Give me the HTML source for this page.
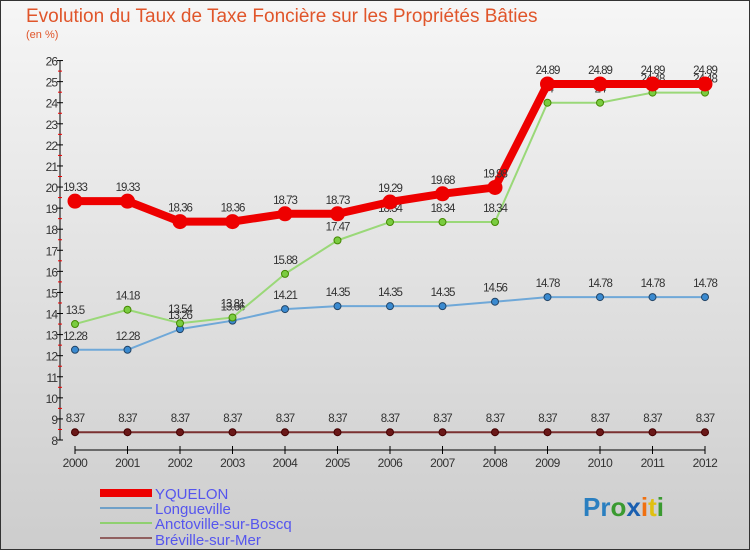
<!DOCTYPE html>
<html><head><meta charset="utf-8"><style>
body{margin:0}
svg{display:block;font-family:"Liberation Sans",sans-serif}
</style></head><body>
<svg width="750" height="550" xmlns="http://www.w3.org/2000/svg">
<defs><linearGradient id="bg" x1="0" y1="0" x2="0" y2="1"><stop offset="0" stop-color="#f6f6f6"/><stop offset="1" stop-color="#cdcdcd"/></linearGradient></defs>
<rect x="0.5" y="0.5" width="749" height="549" fill="url(#bg)" stroke="#333"/>
<text x="26" y="22" font-size="19" fill="#e0552a">Evolution du Taux de Taxe Foncière sur les Propriétés Bâties</text>
<text x="26" y="38" font-size="11" fill="#e0552a">(en %)</text>
<g id="axes"></g><g id="series"></g>
<g>
<rect x="100" y="489" width="52" height="8" fill="#e00"/>
<text x="155" y="499" font-size="15" fill="#5555ee">YQUELON</text>
<line x1="100" y1="508" x2="152" y2="508" stroke="#6fa0c8" stroke-width="2"/>
<text x="155" y="514" font-size="15" fill="#5555ee">Longueville</text>
<line x1="100" y1="523" x2="152" y2="523" stroke="#8fd070" stroke-width="2"/>
<text x="155" y="529" font-size="15" fill="#5555ee">Anctoville-sur-Boscq</text>
<line x1="100" y1="538" x2="152" y2="538" stroke="#906060" stroke-width="2"/>
<text x="155" y="545" font-size="15" fill="#5555ee">Bréville-sur-Mer</text>
</g>
<text x="583" y="516" font-size="26" font-weight="bold"><tspan fill="#2a7fc0">Pr</tspan><tspan fill="#3a9a30">o</tspan><tspan fill="#1a5fb0">x</tspan><tspan fill="#f07010">i</tspan><tspan fill="#e0c010">t</tspan><tspan fill="#3a9a30">i</tspan></text>
</svg>
<script>
const years=[2000,2001,2002,2003,2004,2005,2006,2007,2008,2009,2010,2011,2012];
const yquelon=[19.33,19.33,18.36,18.36,18.73,18.73,19.29,19.68,19.98,24.89,24.89,24.89,24.89];
const longueville=[12.28,12.28,13.26,13.66,14.21,14.35,14.35,14.35,14.56,14.78,14.78,14.78,14.78];
const anctoville=[13.5,14.18,13.54,13.81,15.88,17.47,18.34,18.34,18.34,24,24,24.48,24.48];
const breville=[8.37,8.37,8.37,8.37,8.37,8.37,8.37,8.37,8.37,8.37,8.37,8.37,8.37];
const yTicks=[8,9,10,11,12,13,14,15,16,17,18,19,20,21,22,23,24,25,26];
const NS="http://www.w3.org/2000/svg";
const X=i=>75+i*52.5, Y=v=>440-(v-8)*21.08;
function mk(p,t,a){const e=document.createElementNS(NS,t);for(const k in a)e.setAttribute(k,a[k]);p.appendChild(e);return e;}
const ax=document.getElementById('axes'), sg=document.getElementById('series');
const yl=mk(ax,'line',{x1:60,y1:Y(26),x2:60,y2:Y(8),stroke:'#000'});


yTicks.forEach(v=>{
 mk(ax,'line',{x1:57,x2:63,y1:Y(v),y2:Y(v),stroke:'#000'});
 if(v<26) mk(ax,'line',{x1:58,x2:62,y1:Y(v+0.5),y2:Y(v+0.5),stroke:'#e00'});
 const t=mk(ax,'text',{x:57,y:Y(v)+5,'text-anchor':'end','font-size':12,fill:'#333','letter-spacing':'-1'});
 t.textContent=v;
 
 
});
const xl=mk(ax,'line',{x1:X(0),y1:450,x2:X(12),y2:450,stroke:'#000'});


years.forEach((y,i)=>{
 mk(ax,'line',{x1:X(i),x2:X(i),y1:446,y2:454,stroke:'#000'});
 const t=mk(ax,'text',{x:X(i),y:467,'text-anchor':'middle','font-size':12,fill:'#333','letter-spacing':'-0.5'});
 t.textContent=y;
 
 
});
function series(vals,name,color,w,r,dot,stroke){
 const g=mk(sg,'g',{});
 
 
 mk(g,'polyline',{points:vals.map((v,i)=>X(i)+','+Y(v)).join(' '),fill:'none',stroke:color,'stroke-width':w,'stroke-linejoin':'round'});
 vals.forEach((v,i)=>{
  const c=mk(g,'circle',{cx:X(i),cy:Y(v),r:r,fill:dot,stroke:stroke,'stroke-width':1});
  
  
  const t=mk(g,'text',{x:X(i),y:Y(v)-10,'text-anchor':'middle','font-size':11.5,fill:'#333','letter-spacing':'-1'});
  t.textContent=v;
  
  
 });
}
series(breville,'breville','#7a3030',2,3.5,'#6a1818','#400');
series(longueville,'longueville','#6fa8d8',2,3.5,'#3a8ad0','#246');
series(anctoville,'anctoville','#9ad878',2,3.5,'#7acc40','#480');
series(yquelon,'yquelon','#e00',8,7,'#e00','#e00');
</script>
</body></html>
